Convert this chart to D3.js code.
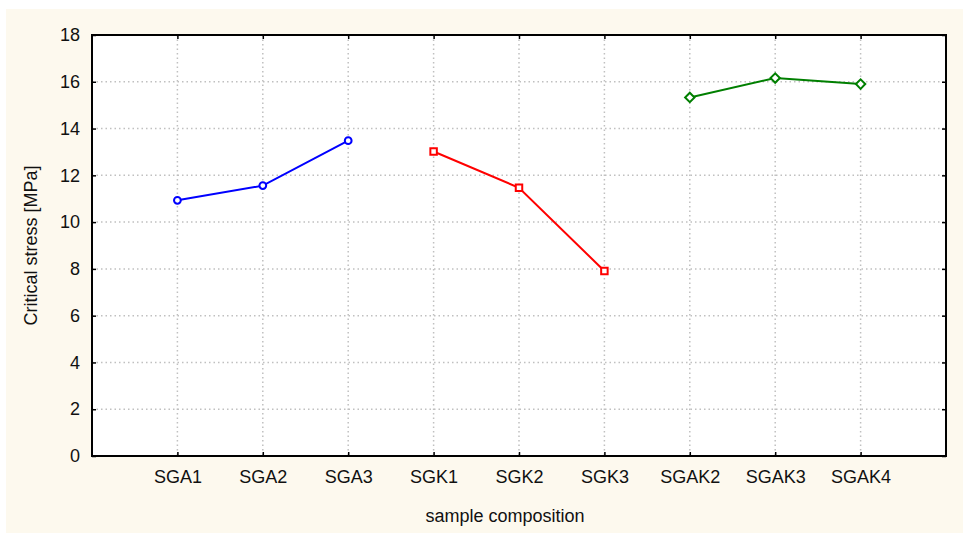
<!DOCTYPE html>
<html>
<head>
<meta charset="utf-8">
<script src="https://cdn.jsdelivr.net/npm/d3@7"></script>
<style>
  html, body { margin: 0; padding: 0; background: #fff; }
  svg { display: block; font-family: "Liberation Sans", Arial, sans-serif; }
</style>
</head>
<body>
<svg id="chart" width="963" height="533"></svg>
<script>
// categories on the x axis
const categories = ["SGA1", "SGA2", "SGA3", "SGK1", "SGK2", "SGK3", "SGAK2", "SGAK3", "SGAK4"];

// series
const sgaNames = ["SGA1", "SGA2", "SGA3"];
const sgaValues = [10.93, 11.56, 13.48];
const sgkNames = ["SGK1", "SGK2", "SGK3"];
const sgkValues = [13.02, 11.47, 7.91];
const sgakNames = ["SGAK2", "SGAK3", "SGAK4"];
const sgakValues = [15.33, 16.16, 15.9];

const yTicks = [0, 2, 4, 6, 8, 10, 12, 14, 16, 18];

const svg = d3.select("#chart"),
      width = +svg.attr("width"),
      height = +svg.attr("height"),
      margin = { top: 35, right: 17, bottom: 77, left: 92 },
      plotWidth = width - margin.left - margin.right,
      plotHeight = height - margin.top - margin.bottom;

// cream background
svg.append("rect")
  .attr("x", 6).attr("y", 9)
  .attr("width", width - 6).attr("height", height - 9)
  .attr("fill", "#fdf9ee");

const g = svg.append("g")
  .attr("transform", `translate(${margin.left},${margin.top})`);

g.append("rect")
  .attr("width", plotWidth).attr("height", plotHeight)
  .attr("fill", "#fff");

const x = d3.scalePoint()
  .domain(categories)
  .range([0, plotWidth])
  .padding(1);

const y = d3.scaleLinear()
  .domain([0, 18])
  .range([plotHeight, 0]);

// grid
g.selectAll(".hgrid")
  .data(yTicks.slice(1, -1))
  .enter().append("line")
  .attr("x1", 0).attr("x2", plotWidth)
  .attr("y1", d => y(d)).attr("y2", d => y(d))
  .attr("stroke", "#c0c0c0")
  .attr("stroke-width", 1.5)
  .attr("stroke-dasharray", "1.5,3");

g.selectAll(".vgrid")
  .data(categories)
  .enter().append("line")
  .attr("x1", d => x(d)).attr("x2", d => x(d))
  .attr("y1", 0).attr("y2", plotHeight)
  .attr("stroke", "#c0c0c0")
  .attr("stroke-width", 1.5)
  .attr("stroke-dasharray", "1.5,3");

// axes
g.append("g")
  .call(d3.axisLeft(y).tickValues(yTicks).tickSize(-4).tickPadding(12));
g.append("g")
  .attr("transform", `translate(0,${plotHeight})`)
  .call(d3.axisBottom(x).tickSize(-4).tickPadding(14));
g.append("g")
  .call(d3.axisTop(x).tickSize(-4).tickFormat(""));
g.append("g")
  .attr("transform", `translate(${plotWidth},0)`)
  .call(d3.axisRight(y).tickValues(yTicks).tickSize(-4).tickFormat(""));

g.selectAll(".domain").remove();
g.selectAll(".tick line").attr("stroke", "#000").attr("stroke-width", 1.5);
g.selectAll(".tick text")
  .attr("fill", "#111")
  .attr("font-size", "18px")
  .attr("font-family", "Liberation Sans, Arial, sans-serif");

// frame
g.append("rect")
  .attr("width", plotWidth).attr("height", plotHeight)
  .attr("fill", "none")
  .attr("stroke", "#000")
  .attr("stroke-width", 2);

// series
const line = d3.line()
  .x(d => x(d.name))
  .y(d => y(d.value));

function series(names, values, color, shape) {
  const pts = names.map((n, i) => ({ name: n, value: values[i] }));
  g.append("path")
    .datum(pts)
    .attr("d", line)
    .attr("fill", "none")
    .attr("stroke", color)
    .attr("stroke-width", 2);
  g.selectAll(null)
    .data(pts)
    .enter().append("path")
    .attr("transform", d => `translate(${x(d.name)},${y(d.value)}) rotate(${shape.rotate})`)
    .attr("d", d3.symbol().type(shape.type).size(shape.size))
    .attr("fill", "#fff")
    .attr("stroke", color)
    .attr("stroke-width", 2);
}

series(sgaNames, sgaValues, "#0000ff", { type: d3.symbolCircle, size: 36, rotate: 0 });
series(sgkNames, sgkValues, "#ff0000", { type: d3.symbolSquare, size: 42, rotate: 0 });
series(sgakNames, sgakValues, "#007f00", { type: d3.symbolSquare, size: 44, rotate: 45 });

// axis titles
svg.append("text")
  .attr("x", 505)
  .attr("y", 522)
  .attr("text-anchor", "middle")
  .attr("font-size", "18px")
  .attr("fill", "#111")
  .text("sample composition");

svg.append("text")
  .attr("transform", "rotate(-90)")
  .attr("x", -(margin.top + plotHeight / 2))
  .attr("y", 37)
  .attr("text-anchor", "middle")
  .attr("font-size", "18px")
  .attr("fill", "#111")
  .text("Critical stress [MPa]");
</script>
</body>
</html>
